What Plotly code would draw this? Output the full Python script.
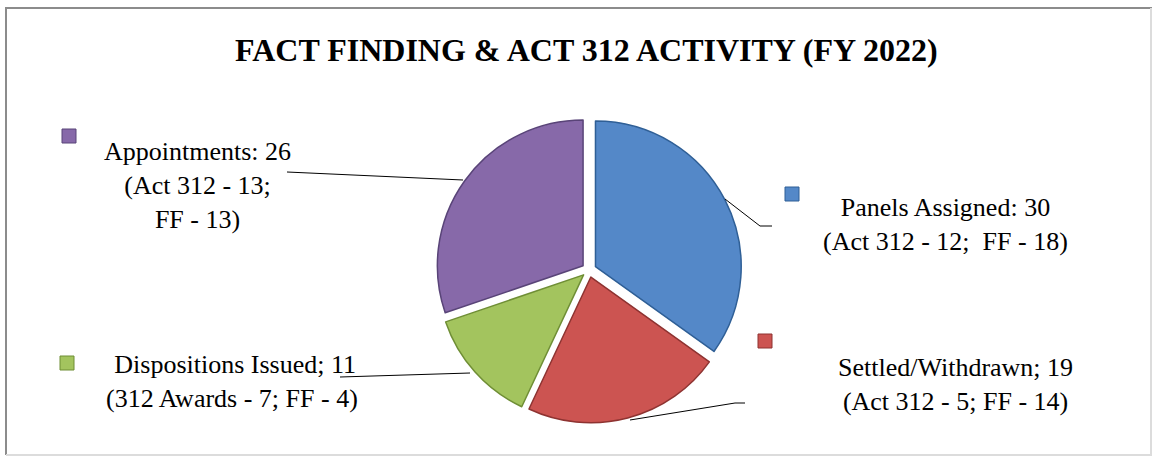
import plotly.graph_objects as go

W, H = 1155, 460

# ---- data ----
categories = ["Panels Assigned", "Settled/Withdrawn", "Dispositions Issued", "Appointments"]
values = [30, 19, 11, 26]
label_texts = [
    "Panels Assigned: 30<br>(Act 312 - 12;  FF - 18)",
    "Settled/Withdrawn; 19<br>(Act 312 - 5; FF - 14)",
    " Dispositions Issued; 11<br>(312 Awards - 7; FF - 4)",
    "Appointments: 26<br>(Act 312 - 13;<br>FF - 13)",
]
title_text = "FACT FINDING & ACT 312 ACTIVITY (FY 2022)"

# ---- styles ----
colors = ["#5488C8", "#CC5451", "#A3C45E", "#8769A9"]
edge_colors = ["#2F5F96", "#8E3331", "#6F8E35", "#594478"]
serif = "Times New Roman, Liberation Serif, serif"


def px(x, y):
    return x / W, 1 - y / H


# pie geometry (pixels)
cx, cy, half = 589, 270, 153
x0, _ = px(cx - half, 0)
x1, _ = px(cx + half, 0)
_, y0 = px(0, cy + half)
_, y1 = px(0, cy - half)

fig = go.Figure(
    go.Pie(
        labels=categories,
        values=values,
        sort=False,
        direction="clockwise",
        rotation=0,
        pull=[0.05] * len(values),
        marker=dict(colors=colors, line=dict(color=edge_colors, width=1.5)),
        textinfo="none",
        hoverinfo="label+value",
        domain=dict(x=[x0, x1], y=[y0, y1]),
        showlegend=False,
    )
)

# label positions (pixels) for annotation centers, legend squares and leader lines
label_pos = [(945, 225), (955, 384), (232, 381), (197, 185)]
square_pos = [(792, 194), (765, 341), (67, 363), (69, 136)]
leaders = [
    [(725, 199), (760, 226), (772, 226)],
    [(630, 420), (735, 403), (745, 403)],
    [(340, 377), (470, 373)],
    [(287, 172), (463, 180)],
]

annotations = []
shapes = []
for i in range(len(categories)):
    ax, ay = px(*label_pos[i])
    annotations.append(
        dict(
            x=ax, y=ay, xref="paper", yref="paper",
            text=label_texts[i], showarrow=False, align="center",
            xanchor="center", yanchor="middle",
            font=dict(family=serif, size=26, color="#000000"),
        )
    )
    sx, sy = square_pos[i]
    a0 = px(sx - 7, sy + 7)
    a1 = px(sx + 7, sy - 7)
    shapes.append(
        dict(type="rect", xref="paper", yref="paper",
             x0=a0[0], y0=a0[1], x1=a1[0], y1=a1[1],
             fillcolor=colors[i], line=dict(color=edge_colors[i], width=1))
    )
    pts = leaders[i]
    for (p, q) in zip(pts[:-1], pts[1:]):
        pa, pb = px(*p), px(*q)
        shapes.append(
            dict(type="line", xref="paper", yref="paper",
                 x0=pa[0], y0=pa[1], x1=pb[0], y1=pb[1],
                 line=dict(color="#000000", width=1))
        )

# title
tx, ty = px(586, 50)
annotations.append(
    dict(x=tx, y=ty, xref="paper", yref="paper", text="<b>" + title_text + "</b>",
         showarrow=False, xanchor="center", yanchor="middle",
         font=dict(family=serif, size=32, color="#000000"))
)

# outer frame
frame = [
    ((5, 8), (1152, 8), "#8C8C8C", 2),
    ((6, 8), (6, 455), "#8C8C8C", 2),
    ((6, 455), (1152, 455), "#DCDCDC", 2),
    ((1151, 8), (1151, 455), "#DCDCDC", 2),
]
for p, q, c, w in frame:
    pa, pb = px(*p), px(*q)
    shapes.append(dict(type="line", xref="paper", yref="paper",
                       x0=pa[0], y0=pa[1], x1=pb[0], y1=pb[1],
                       line=dict(color=c, width=w)))

fig.update_layout(
    width=W, height=H,
    margin=dict(l=0, r=0, t=0, b=0),
    paper_bgcolor="white", plot_bgcolor="white",
    annotations=annotations, shapes=shapes,
)

fig.write_html("out.html")
